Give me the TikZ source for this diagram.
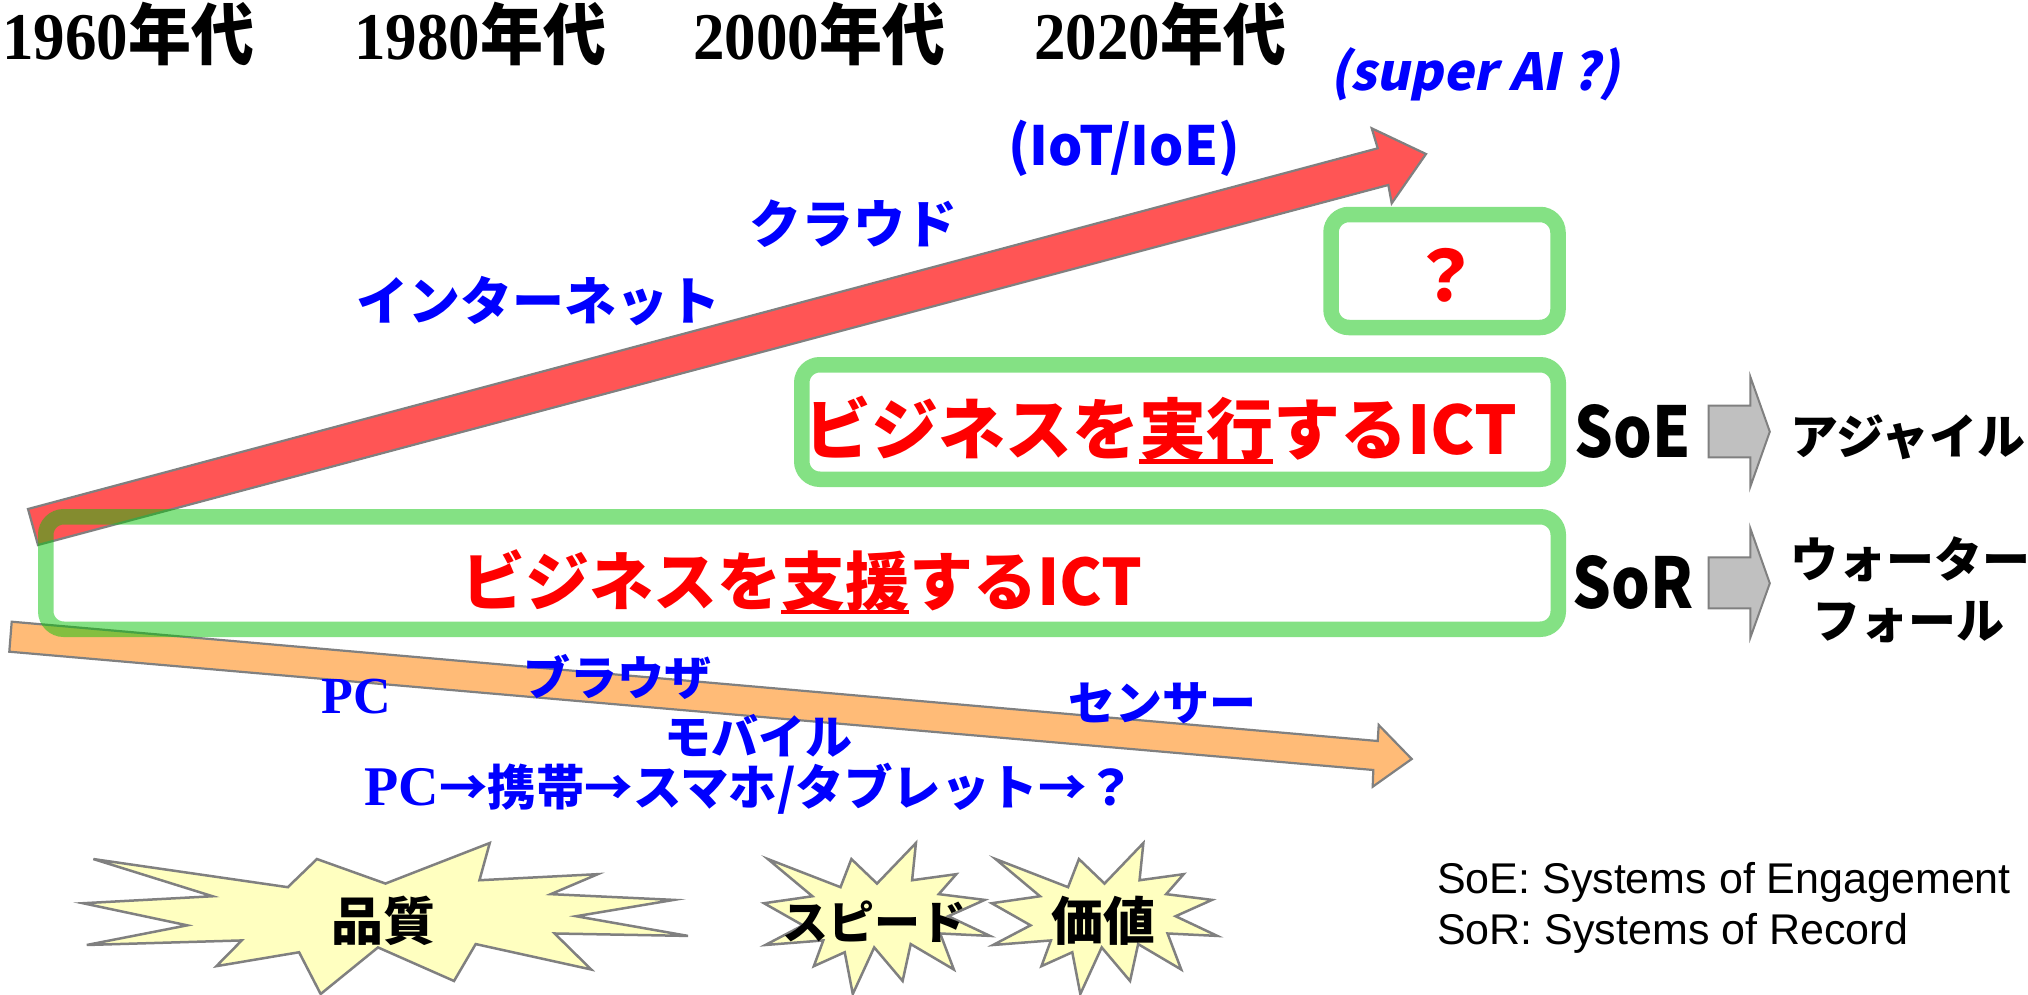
\documentclass[tikz,border=0pt]{standalone}
\usepackage{fontspec}
\usepackage{graphicx}
\newfontfamily\jp{Noto Sans CJK JP}
\newfontfamily\tnr{Liberation Serif}
\newfontfamily\arial{Liberation Sans}
\definecolor{redarrow}{RGB}{255,85,85}
\definecolor{orangearrow}{RGB}{255,187,119}
\definecolor{greenline}{RGB}{10,195,10}
\definecolor{sealfill}{RGB}{255,255,192}
\definecolor{grayfill}{RGB}{192,192,192}
\definecolor{edgegray}{RGB}{128,128,128}
\newcommand\fs[1]{\fontsize{#1}{#1}\selectfont}
\newcommand\myul[1]{\setbox0=\hbox{#1}\rlap{\vrule width\wd0 height -0.08em depth 0.145em}\box0}
\newcommand\yrlabel[1]{\scalebox{1}[1.06]{{\tnr\bfseries #1}{\jp\bfseries 年代}}}
\newcommand\sealshape[4]{%
  \draw[seal, shift={(#1,#2)}, xscale=#3/216, yscale=#4/216]
  (108,58) -- (145.22,0) -- (141.55,53.25) -- (183.80,44.57) -- (167.02,73.15)
  -- (210.97,81.37) -- (176.07,104.75) -- (216,132.90) -- (168.37,129.42)
  -- (181.45,180.95) -- (140.20,144.57) -- (132.47,197.37) -- (105.32,149.35)
  -- (84.85,216) -- (77.15,156.27) -- (47.62,176.17) -- (56.67,139.37)
  -- (1.35,145.87) -- (37.22,117.75) -- (0,86.15) -- (46.27,76.17)
  -- (3.70,22.95) -- (73.12,63.20) -- (83.52,22.95) -- cycle;}
\begin{document}
\begin{tikzpicture}[x=1pt,y=-1pt,
  txt/.style={inner sep=0pt, anchor=base},
  yr/.style={txt, font=\fs{63}},
  pop/.style={txt, font=\jp\bfseries},
  bluetxt/.style={txt, text=blue, font=\jp\bfseries\fs{47}},
  blacktxt/.style={txt, text=black, font=\jp\bfseries\fs{48}},
  bigarrow/.style={draw=edgegray, line width=2.2pt, line join=miter},
  greenbox/.style={draw=greenline, draw opacity=0.5, line width=15.5pt, rounded corners=18pt},
  seal/.style={fill=sealfill, draw=edgegray, line width=2.5pt, line join=miter},
  grayarrow/.style={fill=grayfill, draw=edgegray, line width=2pt, line join=miter},
  legend/.style={inner sep=0pt, anchor=base west, font=\arial\fs{43}}]
\useasboundingbox (0,0) rectangle (2028,995);

% year headers
\node[yr] (y1960) at (128,60) {\yrlabel{1960}};
\node[yr] (y1980) at (480,60) {\yrlabel{1980}};
\node[yr] (y2000) at (819,60) {\yrlabel{2000}};
\node[yr] (y2020) at (1160,60) {\yrlabel{2020}};

% red arrow
\draw[bigarrow, fill=redarrow] (28,509) -- (1377.7,148.3) -- (1371.7,128.3) -- (1426,154)
  -- (1391.7,203.3) -- (1388.3,185) -- (38,545) -- cycle;

% orange arrow
\draw[bigarrow, fill=orangearrow] (11.7,621.7) -- (1377.7,741) -- (1378.7,725)
  -- (1411.7,759) -- (1372.7,786.7) -- (1373.3,770) -- (9.3,651.7) -- cycle;

% green boxes
\draw[greenbox] (45.75,516.75) rectangle (1558.25,629.25);
\draw[greenbox] (801.75,364.75) rectangle (1558.25,479.25);
\draw[greenbox] (1331,214.5) rectangle (1558,327.5);

% texts along red arrow
\node[pop, text=blue, font=\jp\bfseries\fs{51}\addfontfeature{FakeSlant=0.2}] (superai) at (1475,91) {(super AI ?)};
\node[pop, text=blue, font=\jp\bfseries\fs{54}] (iot) at (1124,166) {(IoT/IoE)};
\node[pop, text=blue, font=\jp\bfseries\fs{52}] (cloud) at (853,243) {クラウド};
\node[pop, text=blue, font=\jp\bfseries\fs{52}] (inet) at (538,320) {インターネット};

% box texts
\node[pop, text=red, font=\jp\bfseries\fs{70}] (qmark) at (1445,301) {？};
\node[pop, text=red, font=\jp\bfseries\fs{67}] (exec) at (1161,454) {ビジネスを\myul{実行}するICT};
\node[pop, text=red, font=\jp\bfseries\fs{64}] (support) at (802,605) {ビジネスを\myul{支援}するICT};

% SoE / SoR
\node[pop, font=\jp\bfseries\fs{70}] (soe) at (1633,457) {\scalebox{0.87}[1]{SoE}};
\node[pop, font=\jp\bfseries\fs{70}] (sor) at (1633,608) {\scalebox{0.87}[1]{SoR}};
\draw[grayarrow] (1708.5,405.7) -- (1750.3,405.7) -- (1750.3,376.7) -- (1769.8,431.7)
  -- (1750.3,486.7) -- (1750.3,457.3) -- (1708.5,457.3) -- cycle;
\draw[grayarrow] (1708.5,557.3) -- (1750.3,557.3) -- (1750.3,528.3) -- (1769.8,583.3)
  -- (1750.3,637.7) -- (1750.3,608.3) -- (1708.5,608.3) -- cycle;
\node[blacktxt] (agile) at (1908,454) {アジャイル};
\node[blacktxt] (water1) at (1910,577) {ウォーター};
\node[blacktxt] (water2) at (1908,638) {フォール};

% texts along orange arrow
\node[txt, text=blue, font=\tnr\bfseries\fs{52}] (pc) at (356,713) {PC};
\node[bluetxt] (browser) at (617,695) {ブラウザ};
\node[bluetxt] (mobile) at (758,754) {モバイル};
\node[bluetxt] (sensor) at (1162,720) {センサー};
\node[bluetxt, font=\jp\bfseries\fs{48.5}] (devices) at (750,805) {{\tnr\bfseries\fs{56}PC}→携帯→スマホ/タブレット→？};

% explosions
\sealshape{83}{843}{605}{151}
\sealshape{764}{843}{226}{151}
\sealshape{991.7}{843}{225.6}{151}
\node[pop, font=\jp\bfseries\fs{52}] (quality) at (383,940) {品質};
\node[pop, font=\jp\bfseries\fs{46}] (speed) at (874.5,939) {スピード};
\node[pop, font=\jp\bfseries\fs{52}] (value) at (1103,940) {価値};

% legend
\node[legend] (leg1) at (1437,893) {SoE: Systems of Engagement};
\node[legend] (leg2) at (1437,944) {SoR: Systems of Record};
\end{tikzpicture}
\end{document}
